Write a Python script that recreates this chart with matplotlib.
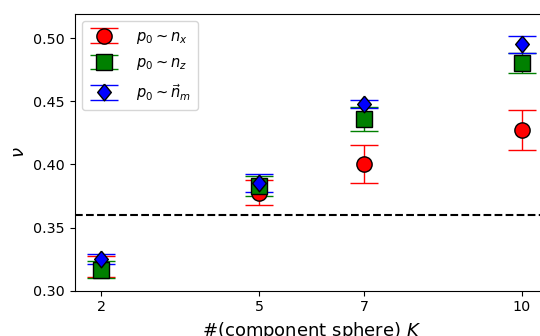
import matplotlib
matplotlib.use("Agg")
import matplotlib.pyplot as plt
import numpy as np

# component sphere counts
K = [2, 5, 7, 10]

# p0 ~ n_x
nu_x = [0.319, 0.3775, 0.400, 0.427]
err_x = [0.0084, 0.0099, 0.015, 0.016]

# p0 ~ n_z
nu_z = [0.3165, 0.3827, 0.4363, 0.4804]
err_z = [0.0068, 0.008, 0.0095, 0.008]

# p0 ~ n_m (vector)
nu_m = [0.3252, 0.385, 0.448, 0.495]
err_m = [0.0040, 0.0072, 0.0033, 0.007]

baseline = 0.36

# slightly fat diamond, as in the reference
diamond = [(0, 1), (0.82, 0), (0, -1), (-0.82, 0), (0, 1)]

fig = plt.figure(figsize=(5.4, 3.36), dpi=100)
ax = fig.add_axes([0.1385, 0.135, 0.877, 0.823])

ax.errorbar(K, nu_x, yerr=err_x, fmt='o', color='red', ecolor='red',
            markeredgecolor='black', markersize=11, capsize=10, elinewidth=1,
            label=r'$p_0 \sim n_x$')
ax.errorbar(K, nu_z, yerr=err_z, fmt='s', color='green', ecolor='green',
            markeredgecolor='black', markersize=11, capsize=10, elinewidth=1,
            label=r'$p_0 \sim n_z$')
ax.errorbar(K, nu_m, yerr=err_m, marker=diamond, linestyle='none',
            color='blue', ecolor='blue',
            markeredgecolor='black', markersize=12, capsize=10, elinewidth=1,
            label=r'$p_0 \sim \vec{n}_m$')

ax.axhline(baseline, color='black', linestyle='--', linewidth=1.5)

ax.set_xlim(1.5, 10.5)
ax.set_ylim(0.30, 0.519)
ax.set_xticks(K)
ax.set_yticks([0.30, 0.35, 0.40, 0.45, 0.50])
ax.tick_params(labelsize=10.3)
ax.set_xlabel(r'#(component sphere) $K$', fontsize=13)
ax.set_ylabel(r'$\nu$', fontsize=13)
ax.legend(loc='upper left', fontsize=10.5, labelspacing=0.65,
          handletextpad=1.2, borderpad=0.5)

fig.savefig("out.png", dpi=100)
